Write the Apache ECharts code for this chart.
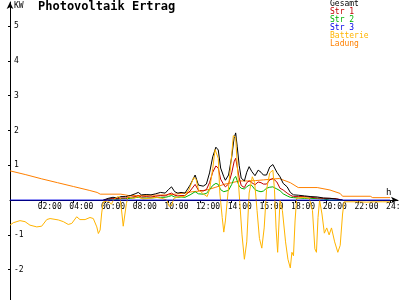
<!DOCTYPE html>
<html>
<head>
<meta charset="utf-8">
<script src="https://cdn.jsdelivr.net/npm/echarts@6/dist/echarts.min.js"></script>
<style>
html,body{margin:0;padding:0;background:#fff;}
#chart{width:400px;height:300px;}
</style>
</head>
<body>
<div id="chart"></div>
<script>
// Stunden (h) und Leistung (kW)
var pvHours = [5.9,6.2,6.5,6.8,7.0,7.3,7.6,7.9,8.1,8.3,8.6,8.9,9.2,9.5,9.8,10.0,10.2,10.4,10.6,10.8,
  11.05,11.37,11.69,11.9,12.2,12.4,12.6,12.8,13.0,13.15,13.3,13.5,13.6,13.8,14.0,14.15,14.25,14.35,14.47,14.6,
  14.8,14.95,15.1,15.27,15.47,15.67,15.85,16.0,16.2,16.4,16.6,16.85,17.05,17.25,17.5,17.7,17.9,18.2,18.6,19.0,
  19.4,19.8,20.2,20.6,21.0];
var gesamt = [0,0.05,0.08,0.06,0.1,0.1,0.13,0.18,0.22,0.15,0.16,0.15,0.18,0.22,0.2,0.3,0.38,0.24,0.2,0.22,
  0.2,0.43,0.72,0.43,0.4,0.46,0.78,1.24,1.52,1.44,0.92,0.67,0.57,0.72,1.24,1.78,1.93,1.53,1.0,0.63,
  0.55,0.8,0.96,0.82,0.7,0.86,0.8,0.72,0.72,0.95,1.02,0.8,0.67,0.48,0.38,0.22,0.15,0.14,0.12,0.1,
  0.09,0.06,0.05,0.03,0];
var str1 = [0,0.03,0.05,0.04,0.06,0.06,0.08,0.1,0.12,0.09,0.1,0.09,0.11,0.13,0.12,0.17,0.2,0.14,0.12,0.13,
  0.13,0.26,0.45,0.28,0.26,0.3,0.5,0.8,0.98,0.92,0.6,0.44,0.38,0.46,0.78,1.1,1.2,0.95,0.64,0.42,
  0.36,0.5,0.55,0.5,0.44,0.52,0.5,0.46,0.46,0.58,0.62,0.52,0.34,0.29,0.2,0.14,0.1,0.1,0.1,0.08,
  0.06,0.05,0.05,0.04,0];
var str2 = [0,0.02,0.03,0.02,0.04,0.04,0.05,0.07,0.08,0.06,0.06,0.06,0.07,0.08,0.08,0.1,0.13,0.09,0.08,0.09,
  0.08,0.15,0.24,0.18,0.17,0.19,0.3,0.42,0.48,0.45,0.3,0.24,0.22,0.28,0.45,0.62,0.68,0.55,0.4,0.34,
  0.32,0.38,0.43,0.42,0.3,0.26,0.24,0.26,0.34,0.37,0.38,0.32,0.27,0.18,0.12,0.08,0.07,0.06,0.05,0.05,
  0.04,0.03,0,0,0];
var str3Hours = [0,24];
var str3 = [0,0];
var battHours = [0,0.21,0.63,0.95,1.26,1.69,2.0,2.32,2.53,3.05,3.37,3.68,3.9,4.21,4.42,4.74,5.05,5.26,5.48,5.58,5.69,5.79,5.89,
  6.0,6.2,6.4,6.55,6.8,6.95,7.07,7.15,7.25,7.35,7.45,7.8,8.1,8.4,8.8,9.2,9.6,9.9,10.05,10.2,
  10.35,10.7,11.0,11.3,11.6,11.75,11.9,12.2,12.45,12.6,12.8,12.95,13.05,13.15,13.25,13.4,13.5,13.6,13.7,13.85,
  14.0,14.1,14.25,14.35,14.5,14.65,14.8,14.95,15.1,15.3,15.45,15.6,15.75,15.9,16.05,16.2,16.4,16.6,16.7,16.8,
  16.9,17.05,17.2,17.4,17.55,17.7,17.8,17.9,18.0,18.1,18.5,18.9,19.1,19.25,19.35,19.45,19.55,19.7,19.85,20.0,
  20.15,20.3,20.5,20.7,20.85,21.0,21.1,22.0,22.5,23.0,23.5,24.0];
var batterie = [-0.72,-0.65,-0.59,-0.62,-0.72,-0.77,-0.75,-0.56,-0.53,-0.57,-0.62,-0.7,-0.67,-0.48,-0.56,-0.56,-0.5,-0.53,-0.77,-0.96,-0.86,-0.37,-0.05,
  0.0,-0.02,-0.12,0.02,0.1,0.08,-0.4,-0.75,-0.7,-0.1,0.1,0.05,0.1,0.03,0.05,0.08,0.05,0.0,-0.18,-0.15,
  0.05,0.1,0.1,0.3,0.65,0.6,0.3,0.18,0.1,0.3,0.9,1.45,1.5,1.2,0.2,-0.5,-0.92,-0.6,-0.1,0.6,
  1.3,1.85,1.8,1.0,0.0,-1.0,-1.7,-1.2,0.2,0.67,0.5,-0.3,-1.1,-1.38,-0.8,0.3,0.78,0.86,0.3,-0.8,
  -1.5,0.0,-0.3,-1.2,-1.7,-1.95,-1.5,-1.6,-0.6,0.05,0.08,0.05,-0.3,-1.4,-1.5,-0.5,0.0,-0.4,-0.95,-0.8,
  -1.0,-0.8,-1.2,-1.5,-1.3,-0.4,-0.05,-0.05,-0.06,-0.05,-0.05,-0.05];
var ladHours = [0,1,2,3,4,5,5.5,5.7,7,7.5,8,9,10,11,11.5,12,12.5,13,13.5,14,
  14.5,15,15.5,16,16.5,17,17.7,18.2,19.4,20.2,20.85,21.0,22.75,22.9,24];
var ladung = [0.84,0.73,0.61,0.5,0.39,0.28,0.22,0.17,0.17,0.13,0.13,0.14,0.15,0.2,0.24,0.26,0.3,0.37,0.45,0.5,
  0.55,0.55,0.56,0.58,0.6,0.62,0.5,0.36,0.36,0.29,0.19,0.11,0.11,0.07,0.07];

var xTicks = [2,4,6,8,10,12,14,16,18,20,22,24];
var yTicks = [-2,-1,1,2,3,4,5];

var mono = 'DejaVu Sans Mono';

function zip(h, v){
  var out = [];
  for(var i = 0; i < h.length; i++){
    out.push([h[i], v[i]]);
  }
  return out;
}

function line(name, color, h, v, z){
  return {
    name: name,
    type: 'line',
    showSymbol: false,
    symbol: 'none',
    z: z,
    lineStyle: {color: color, width: 1},
    itemStyle: {color: color},
    data: zip(h, v)
  };
}

var myChart = echarts.init(document.getElementById('chart'));
var option = {
  backgroundColor: '#fff',
  animation: false,
  title: {
    text: 'Photovoltaik Ertrag',
    left: 38,
    top: 1,
    padding: 0,
    textStyle: {fontFamily: mono, fontSize: 12, fontWeight: 'bold', color: '#000'}
  },
  legend: {
    orient: 'vertical',
    left: 325,
    top: 0,
    padding: 0,
    itemGap: 0,
    itemWidth: 0,
    itemHeight: 8,
    icon: 'rect',
    selectedMode: false,
    textStyle: {fontFamily: mono, fontSize: 8, lineHeight: 8},
    data: [
      {name: 'Gesamt', textStyle: {color: '#000000'}},
      {name: 'Str 1', textStyle: {color: '#c00000'}},
      {name: 'Str 2', textStyle: {color: '#00b400'}},
      {name: 'Str 3', textStyle: {color: '#0000e6'}},
      {name: 'Batterie', textStyle: {color: '#ffb400'}},
      {name: 'Ladung', textStyle: {color: '#ff8000'}}
    ]
  },
  grid: {left: 10, right: 2, top: 2, bottom: 0, outerBoundsMode: 'none', containLabel: false},
  xAxis: {
    type: 'value',
    min: 0,
    max: 24.5,
    position: 'bottom',
    offset: -100,
    name: 'h',
    nameLocation: 'end',
    nameGap: -12,
    nameTextStyle: {fontFamily: mono, fontSize: 9, color: '#000', align: 'left', verticalAlign: 'bottom', padding: [0, 0, 3, 0]},
    axisLine: {onZero: false, lineStyle: {color: '#000', width: 1}, symbol: ['none', 'arrow'], symbolSize: [5, 7]},
    axisTick: {show: true, length: 3, lineStyle: {color: '#000'}, customValues: xTicks},
    axisLabel: {
      customValues: xTicks,
      margin: 3,
      align: 'left',
      padding: [0, 0, 0, -4],
      fontFamily: mono,
      fontSize: 8,
      color: '#000',
      formatter: function(v){ return (v < 10 ? '0' : '') + v + ':00'; }
    },
    splitLine: {show: false}
  },
  yAxis: {
    type: 'value',
    min: -2.87,
    max: 5.69,
    name: 'KW',
    nameLocation: 'end',
    nameGap: 0,
    nameTextStyle: {fontFamily: mono, fontSize: 8, color: '#000', align: 'left', verticalAlign: 'top', padding: [0, 0, 0, 4]},
    axisLine: {lineStyle: {color: '#000', width: 1}, symbol: ['none', 'arrow'], symbolSize: [5, 7]},
    axisTick: {show: true, length: 2, lineStyle: {color: '#000'}, customValues: yTicks},
    axisLabel: {
      customValues: yTicks,
      inside: true,
      margin: 4,
      fontFamily: mono,
      fontSize: 8,
      color: '#000'
    },
    splitLine: {show: false}
  },
  series: [
    line('Gesamt', '#000000', pvHours, gesamt, 5),
    line('Str 1', '#c00000', pvHours, str1, 4),
    line('Str 2', '#00b400', pvHours, str2, 3),
    line('Str 3', '#0000e6', str3Hours, str3, 8),
    line('Batterie', '#ffb400', battHours, batterie, 6),
    line('Ladung', '#ff8000', ladHours, ladung, 2)
  ]
};
myChart.setOption(option);
</script>
</body>
</html>
